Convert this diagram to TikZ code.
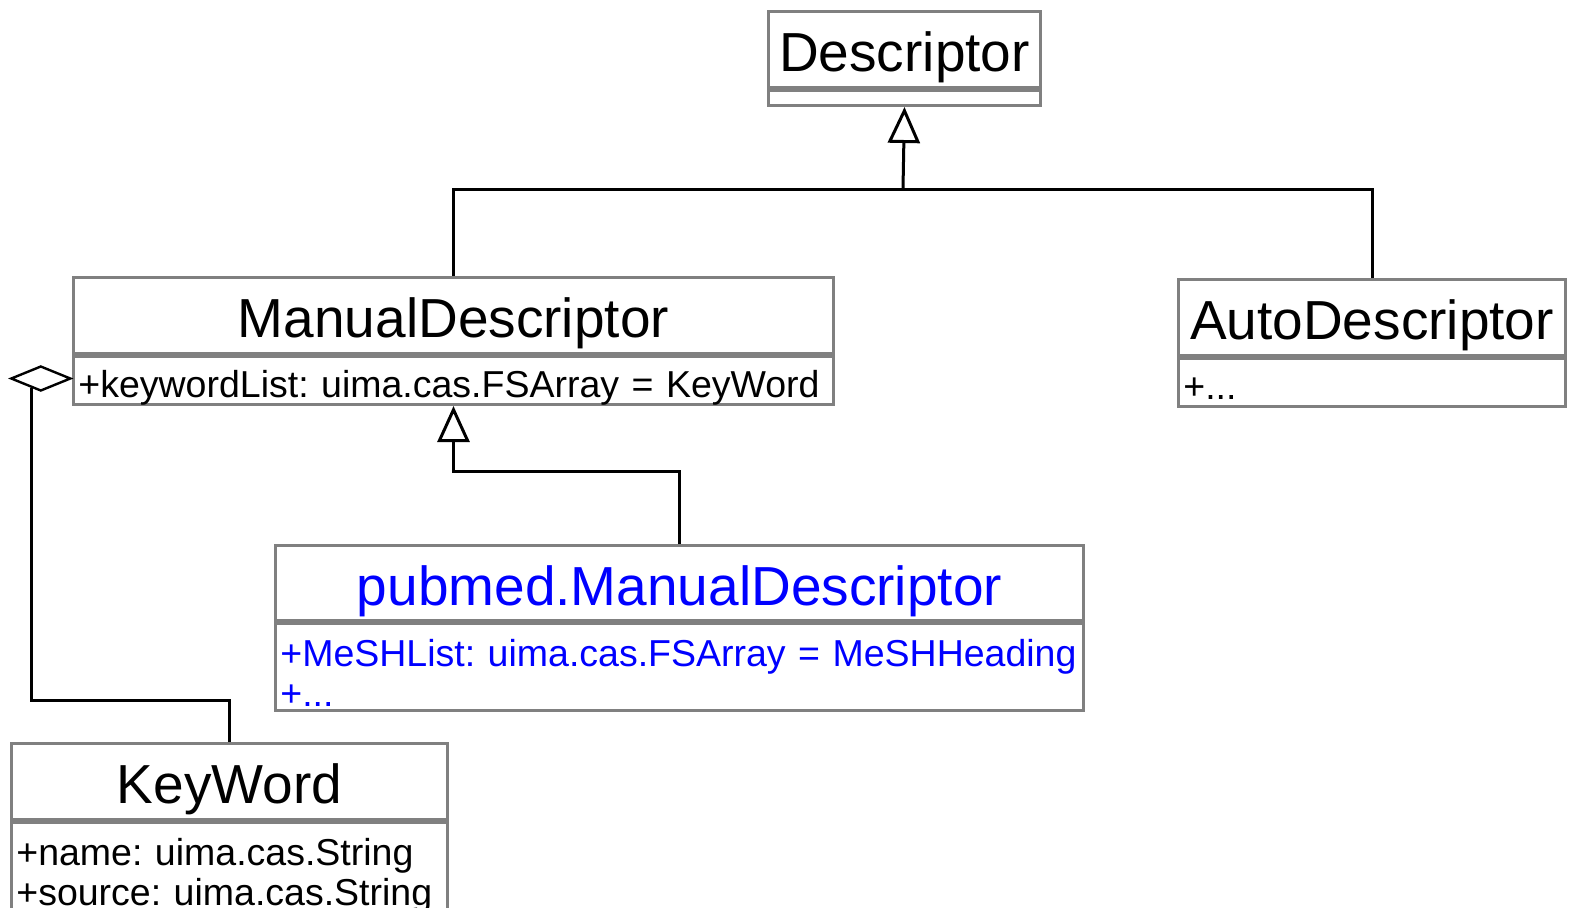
\documentclass[tikz,border=0pt]{standalone}
\usepackage{fontspec}
\setmainfont{Liberation Sans}
\usetikzlibrary{positioning,arrows.meta,shapes.geometric}
\definecolor{umlgray}{RGB}{128,128,128}
\definecolor{umlblue}{RGB}{0,0,255}
\newcommand{\titlefont}{\fontsize{27.5}{30}\selectfont}
\newcommand{\attrfont}{\fontsize{18.75}{20}\selectfont\frenchspacing}
\begin{document}
\begin{tikzpicture}
  [x=0.5pt, y=-0.5pt,
  classname/.style = {draw=umlgray, line width=1.5pt, fill=white,
                      inner sep=0pt, anchor=north west,
                      minimum width=#1, minimum height=38pt,
                      font=\titlefont, text height=24.7pt, text depth=2.5pt},
  classattr/.style 2 args = {draw=umlgray, line width=1.5pt, inner sep=0pt,
                      minimum width=#1, minimum height=#2},
  attrtext/.style = {anchor=base west, inner sep=0pt, font=\attrfont,
                      text width=#1, align=left},
  attrtext/.default = 600pt,
  inherit/.style = {line width=1.5pt,
                      -{Triangle[open, length=18pt, width=16pt]}},
  link/.style = {line width=1.5pt},
  aggregate/.style = {diamond, draw, fill=white, line width=1.2pt,
                      inner sep=0pt, minimum width=30pt, minimum height=12.5pt}]
  \useasboundingbox (0,0) rectangle (1571,907);
  % Class Descriptor
  \node[classname=136pt] (D) at (767,10) {Descriptor};
  \node[classattr={136pt}{7.5pt}, below=0pt of D] (Dattr) {};
  % Class ManualDescriptor
  \node[classname=380pt] (MD) at (72,276) {ManualDescriptor};
  \node[classattr={380pt}{24pt}, below=0pt of MD] (MDattr) {};
  \node[attrtext] at ([shift={(3pt,-21pt)}]MDattr.north west)
    {+keywordList: uima.cas.FSArray = KeyWord};
  % Class AutoDescriptor
  \node[classname=193.5pt] (AD) at (1177,278) {AutoDescriptor};
  \node[classattr={193.5pt}{24pt}, below=0pt of AD] (ADattr) {};
  \node[attrtext] at ([shift={(3pt,-21pt)}]ADattr.north west) {+...};
  % Class pubmed.ManualDescriptor
  \node[classname=404pt, minimum height=37.5pt, text=umlblue] (PM) at (274,544)
    {pubmed.ManualDescriptor};
  \node[classattr={404pt}{43.5pt}, below=0pt of PM] (PMattr) {};
  \node[attrtext, text=umlblue] at ([shift={(3pt,-22pt)}]PMattr.north west)
    {+MeSHList: uima.cas.FSArray = MeSHHeading\\+...};
  % Class KeyWord
  \node[classname=218pt] (KW) at (10,742) {KeyWord};
  \node[classattr={218pt}{43.5pt}, below=0pt of KW] (KWattr) {};
  \node[attrtext] at ([shift={(3pt,-22pt)}]KWattr.north west)
    {+name: uima.cas.String\\+source: uima.cas.String};
  % Generalizations
  \coordinate (J) at (903,189);
  \draw[link] (MD.north) |- (J);
  \draw[link] (AD.north) |- (J);
  \draw[inherit] (J) -- (Dattr.south);
  \draw[inherit] (PM.north) -- ++(0,-73) -| (MDattr.south);
  % Aggregation
  \node[aggregate, anchor=east] (agg) at ([yshift=1pt]MDattr.west) {};
  \draw[link] (KW.north) -- ++(0,-42) -| (agg.225);
\end{tikzpicture}
\end{document}
